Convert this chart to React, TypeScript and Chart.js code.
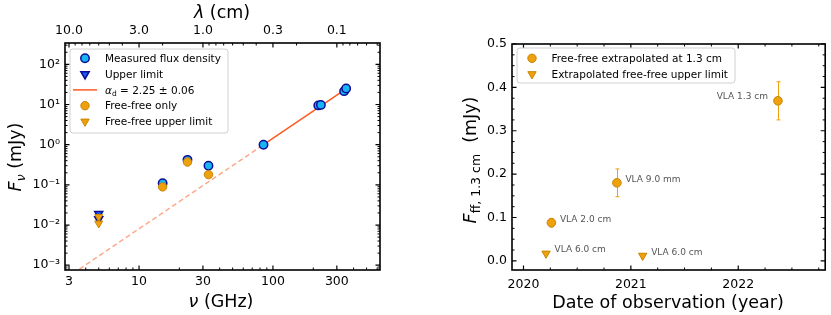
import React, { useEffect, useRef } from 'react';
import { Chart, registerables } from 'chart.js';
Chart.register(...registerables);

const FONT = '"DejaVu Sans", sans-serif';

// ---------- Left panel data ----------
const measNu = [15, 23, 33, 85, 218, 228, 340, 352];
const measFlux = [0.11, 0.42, 0.3, 1.0, 9.5, 9.8, 21.5, 25.0];
const ulNu = [5, 5];
const ulFlux = [0.019, 0.014];
const ffNu = [15, 23, 33];
const ffFlux = [0.089, 0.37, 0.18];
const ffUlNu = [5, 5];
const ffUlFlux = [0.016, 0.011];
const fitNu = [85, 345];
const fitFlux = [1.0, 23.4];
const extrapNu = [3.2, 85];
const extrapFlux = [0.00062, 1.0];
const nuTicks = [3, 10, 30, 100, 300];
const nuTickLabels = ['3', '10', '30', '100', '300'];
const lambdaTickLabels = ['10.0', '3.0', '1.0', '0.3', '0.1'];
const fluxTicks = [1e-3, 1e-2, 1e-1, 1, 10, 100];
const fluxTickLabels = ['10⁻³', '10⁻²', '10⁻¹', '10⁰', '10¹', '10²'];
const legendLeft = ['Measured flux density', 'Upper limit', 'α_d = 2.25 ± 0.06', 'Free-free only', 'Free-free upper limit'];

// ---------- Right panel data ----------
const ffDates = [2020.26, 2020.87, 2022.37];
const ffVals = [0.088, 0.18, 0.369];
const ffErrs = [0.01, 0.032, 0.044];
const ffLabels = ['VLA 2.0 cm', 'VLA 9.0 mm', 'VLA 1.3 cm'];
const ulDates = [2020.21, 2021.11];
const ulVals = [0.017, 0.012];
const ulLabels = ['VLA 6.0 cm', 'VLA 6.0 cm'];
const yearTicks = [2020, 2021, 2022];
const mjyTicks = [0, 0.1, 0.2, 0.3, 0.4, 0.5];
const legendRight = ['Free-free extrapolated at 1.3 cm', 'Extrapolated free-free upper limit'];

// ---------- colours ----------
const BLUE_FILL = '#19b4f3';
const BLUE_EDGE = '#0c0c96';
const TRI_BLUE = '#1a5ef0';
const OR_FILL = '#eea10c';
const OR_EDGE = '#c88400';
const FIT = '#fb5a1e';
const EXTRAP = 'rgba(252,140,100,0.75)';

const pts = (xs: number[], ys: number[]) => xs.map((x, i) => ({ x, y: ys[i] }));

type Seg = { t: string; size: number; italic?: boolean; dy?: number };
function drawRich(ctx: CanvasRenderingContext2D, segs: Seg[], cx: number, cy: number, rot: number, align: 'center' | 'left' = 'center') {
  ctx.save();
  ctx.translate(cx, cy);
  if (rot) ctx.rotate(rot);
  ctx.fillStyle = '#000';
  ctx.textBaseline = 'alphabetic';
  ctx.textAlign = 'left';
  const widths = segs.map((s) => {
    ctx.font = `${s.italic ? 'italic ' : ''}${s.size}px ${FONT}`;
    return ctx.measureText(s.t).width;
  });
  const total = widths.reduce((a, b) => a + b, 0);
  const main = segs[0].size;
  let x = align === 'center' ? -total / 2 : 0;
  segs.forEach((s, i) => {
    ctx.font = `${s.italic ? 'italic ' : ''}${s.size}px ${FONT}`;
    ctx.fillText(s.t, x, main * 0.36 + (s.dy || 0));
    x += widths[i];
  });
  ctx.restore();
}

function drawMarker(ctx: CanvasRenderingContext2D, kind: string, x: number, y: number) {
  ctx.save();
  if (kind === 'line') {
    ctx.strokeStyle = FIT;
    ctx.lineWidth = 1.5;
    ctx.beginPath();
    ctx.moveTo(x - 12, y);
    ctx.lineTo(x + 12, y);
    ctx.stroke();
  } else if (kind.startsWith('circle')) {
    const blue = kind.endsWith('blue');
    ctx.fillStyle = blue ? BLUE_FILL : OR_FILL;
    ctx.strokeStyle = blue ? BLUE_EDGE : OR_EDGE;
    ctx.lineWidth = blue ? 1.5 : 1;
    ctx.beginPath();
    ctx.arc(x, y, 4.2, 0, Math.PI * 2);
    ctx.fill();
    ctx.stroke();
  } else {
    const blue = kind.endsWith('blue');
    ctx.fillStyle = blue ? TRI_BLUE : OR_FILL;
    ctx.strokeStyle = blue ? BLUE_EDGE : OR_EDGE;
    ctx.lineWidth = blue ? 1.5 : 1;
    const r = 4.8;
    ctx.beginPath();
    ctx.moveTo(x, y + r);
    ctx.lineTo(x - r * 0.866, y - r * 0.5);
    ctx.lineTo(x + r * 0.866, y - r * 0.5);
    ctx.closePath();
    ctx.fill();
    ctx.stroke();
  }
  ctx.restore();
}

function legendBox(ctx: CanvasRenderingContext2D, x: number, y: number, w: number, h: number) {
  ctx.save();
  ctx.fillStyle = 'rgba(255,255,255,0.85)';
  ctx.strokeStyle = '#d0d0d0';
  ctx.lineWidth = 1;
  const r = 3;
  ctx.beginPath();
  ctx.moveTo(x + r, y);
  ctx.lineTo(x + w - r, y);
  ctx.quadraticCurveTo(x + w, y, x + w, y + r);
  ctx.lineTo(x + w, y + h - r);
  ctx.quadraticCurveTo(x + w, y + h, x + w - r, y + h);
  ctx.lineTo(x + r, y + h);
  ctx.quadraticCurveTo(x, y + h, x, y + h - r);
  ctx.lineTo(x, y + r);
  ctx.quadraticCurveTo(x, y, x + r, y);
  ctx.closePath();
  ctx.fill();
  ctx.stroke();
  ctx.restore();
}

type TickSpec = { xMaj: number[]; xMin: number[]; yMaj: number[]; yMin: number[]; topMaj?: number[]; topMin?: number[] };
function drawFrameTicks(chart: any, spec: TickSpec) {
  const { ctx, chartArea: a } = chart;
  const xs = chart.scales.x;
  const ys = chart.scales.y;
  ctx.save();
  ctx.strokeStyle = '#000';
  const inX = (p: number) => p >= a.left - 0.5 && p <= a.right + 0.5;
  const inY = (p: number) => p >= a.top - 0.5 && p <= a.bottom + 0.5;
  const vt = (vals: number[], len: number, w: number, bottom: boolean, top: boolean) => {
    ctx.lineWidth = w;
    vals.forEach((v) => {
      const p = xs.getPixelForValue(v);
      if (!inX(p)) return;
      ctx.beginPath();
      if (bottom) {
        ctx.moveTo(p, a.bottom);
        ctx.lineTo(p, a.bottom - len);
      }
      if (top) {
        ctx.moveTo(p, a.top);
        ctx.lineTo(p, a.top + len);
      }
      ctx.stroke();
    });
  };
  const topSep = !!spec.topMaj;
  vt(spec.xMaj, 4.5, 1.2, true, !topSep);
  vt(spec.xMin, 2.5, 1, true, !topSep);
  if (topSep) {
    vt(spec.topMaj || [], 4.5, 1.2, false, true);
    vt(spec.topMin || [], 2.5, 1, false, true);
  }
  const ht = (vals: number[], len: number, w: number) => {
    ctx.lineWidth = w;
    vals.forEach((v) => {
      const p = ys.getPixelForValue(v);
      if (!inY(p)) return;
      ctx.beginPath();
      ctx.moveTo(a.left, p);
      ctx.lineTo(a.left + len, p);
      ctx.moveTo(a.right, p);
      ctx.lineTo(a.right - len, p);
      ctx.stroke();
    });
  };
  ht(spec.yMaj, 4.5, 1.2);
  ht(spec.yMin, 2.5, 1);
  ctx.lineWidth = 1.6;
  ctx.strokeRect(a.left, a.top, a.right - a.left, a.bottom - a.top);
  ctx.restore();
}

function logMinors(lo: number, hi: number, majors: number[]) {
  const out: number[] = [];
  for (let d = -5; d <= 4; d++) {
    for (let k = 1; k <= 9; k++) {
      const v = k * Math.pow(10, d);
      if (v >= lo && v <= hi && !majors.some((m) => Math.abs(m - v) / v < 1e-6)) out.push(v);
    }
  }
  return out;
}

function stepTicks(lo: number, hi: number, step: number) {
  const out: number[] = [];
  const s = Math.ceil(lo / step - 1e-9);
  for (let i = s; i * step <= hi + 1e-9; i++) out.push(+(i * step).toFixed(6));
  return out;
}

const X_MIN_L = 2.8;
const X_MAX_L = 630;
const Y_MIN_L = 7.6e-4;
const Y_MAX_L = 340;
const NOGRID = { display: false, drawTicks: false };

function LeftChart() {
  const ref = useRef<HTMLCanvasElement>(null);
  useEffect(() => {
    if (!ref.current) return;
    const tickFont = { family: FONT, size: 12.5 };
    const lamMinors = logMinors(30 / X_MAX_L, 30 / X_MIN_L, [0.1, 0.3, 1, 3, 10]).map((l) => 30 / l);
    const plugin = {
      id: 'leftDeco',
      afterDraw(chart: any) {
        const ctx = chart.ctx as CanvasRenderingContext2D;
        drawFrameTicks(chart, {
          xMaj: nuTicks,
          xMin: logMinors(X_MIN_L, X_MAX_L, nuTicks),
          topMaj: nuTicks,
          topMin: lamMinors,
          yMaj: fluxTicks,
          yMin: logMinors(Y_MIN_L, Y_MAX_L, fluxTicks),
        });
        // legend
        legendBox(ctx, 70, 49, 158, 84);
        const kinds = ['circle-blue', 'tri-blue', 'line', 'circle-orange', 'tri-orange'];
        legendLeft.forEach((lab, i) => {
          const y = 58.3 + i * 15.8;
          drawMarker(ctx, kinds[i], 85, y);
          if (lab.startsWith('α_d')) {
            drawRich(ctx, [
              { t: 'α', size: 10.5, italic: true },
              { t: 'd', size: 7.5, dy: 2.5 },
              { t: lab.slice(3), size: 10.5 },
            ], 105, y, 0, 'left');
          } else {
            drawRich(ctx, [{ t: lab, size: 10.5 }], 105, y, 0, 'left');
          }
        });
        // axis titles
        drawRich(ctx, [{ t: 'λ', size: 17.5, italic: true }, { t: ' (cm)', size: 17.5 }], 222, 12, 0);
        drawRich(ctx, [{ t: 'ν', size: 17.5, italic: true }, { t: ' (GHz)', size: 17.5 }], 221, 301, 0);
        drawRich(ctx, [
          { t: 'F', size: 17.5, italic: true },
          { t: 'ν', size: 12.5, italic: true, dy: 3.5 },
          { t: ' (mJy)', size: 17.5 },
        ], 15, 157, -Math.PI / 2);
      },
    };
    const chart = new Chart(ref.current, {
      type: 'scatter',
      data: {
        datasets: [
          { data: pts(ffUlNu, ffUlFlux), pointStyle: 'triangle', rotation: 180, pointRadius: 4.6, backgroundColor: OR_FILL, borderColor: OR_EDGE, borderWidth: 1, order: 1 },
          { data: pts(ffNu, ffFlux), pointStyle: 'circle', pointRadius: 4.2, backgroundColor: OR_FILL, borderColor: OR_EDGE, borderWidth: 1, order: 2 },
          { data: pts(ulNu, ulFlux), pointStyle: 'triangle', rotation: 180, pointRadius: 4.6, backgroundColor: TRI_BLUE, borderColor: BLUE_EDGE, borderWidth: 1.5, order: 3 },
          { data: pts(measNu, measFlux), pointStyle: 'circle', pointRadius: 4.2, backgroundColor: BLUE_FILL, borderColor: BLUE_EDGE, borderWidth: 1.5, order: 4 },
          { data: pts(fitNu, fitFlux), showLine: true, pointRadius: 0, borderColor: FIT, borderWidth: 1.5, order: 5 },
          { data: pts(extrapNu, extrapFlux), showLine: true, pointRadius: 0, borderColor: EXTRAP, borderWidth: 1.5, borderDash: [5, 3], order: 6 },
        ] as any,
      },
      options: {
        animation: false,
        responsive: false,
        maintainAspectRatio: false,
        events: [],
        layout: { padding: { left: 0, right: 35, top: 0, bottom: 0 } },
        plugins: { legend: { display: false }, tooltip: { enabled: false } },
        scales: {
          x: {
            type: 'logarithmic', position: 'bottom', min: X_MIN_L, max: X_MAX_L, bounds: 'data',
            grid: NOGRID, border: { display: false },
            afterBuildTicks: (s: any) => { s.ticks = nuTicks.map((v) => ({ value: v })); },
            afterFit: (s: any) => { s.height = 45; },
            ticks: { autoSkip: false, maxRotation: 0, color: '#000', font: tickFont, padding: 4, callback: (_v: any, i: number) => nuTickLabels[i] },
          },
          x2: {
            type: 'logarithmic', axis: 'x', position: 'top', min: X_MIN_L, max: X_MAX_L, bounds: 'data',
            grid: NOGRID, border: { display: false },
            afterBuildTicks: (s: any) => { s.ticks = nuTicks.map((v) => ({ value: v })); },
            afterFit: (s: any) => { s.height = 43; },
            ticks: { autoSkip: false, maxRotation: 0, color: '#000', font: tickFont, padding: 5, callback: (_v: any, i: number) => lambdaTickLabels[i] },
          },
          y: {
            type: 'logarithmic', min: Y_MIN_L, max: Y_MAX_L, bounds: 'data',
            grid: NOGRID, border: { display: false },
            afterBuildTicks: (s: any) => { s.ticks = fluxTicks.map((v) => ({ value: v })); },
            afterFit: (s: any) => { s.width = 65; },
            ticks: { autoSkip: false, color: '#000', font: tickFont, padding: 5, callback: (_v: any, i: number) => fluxTickLabels[i] },
          },
        } as any,
      },
      plugins: [plugin as any],
    });
    return () => chart.destroy();
  }, []);
  return <canvas ref={ref} width={415} height={315} style={{ position: 'absolute', left: 0, top: 0, width: 415, height: 315 }} />;
}

const X_MIN_R = 2019.893;
const X_MAX_R = 2022.81;
const Y_MIN_R = -0.021;
const Y_MAX_R = 0.5;

function RightChart() {
  const ref = useRef<HTMLCanvasElement>(null);
  useEffect(() => {
    if (!ref.current) return;
    const tickFont = { family: FONT, size: 12.5 };
    const plugin = {
      id: 'rightDeco',
      beforeDatasetsDraw(chart: any) {
        const ctx = chart.ctx as CanvasRenderingContext2D;
        const xs = chart.scales.x;
        const ys = chart.scales.y;
        ctx.save();
        ctx.strokeStyle = OR_FILL;
        ctx.lineWidth = 1;
        ffDates.forEach((d, i) => {
          const px = Math.round(xs.getPixelForValue(d)) + 0.5;
          const y1 = ys.getPixelForValue(ffVals[i] - ffErrs[i]);
          const y2 = ys.getPixelForValue(ffVals[i] + ffErrs[i]);
          ctx.beginPath();
          ctx.moveTo(px, y1);
          ctx.lineTo(px, y2);
          ctx.moveTo(px - 2, y1);
          ctx.lineTo(px + 2, y1);
          ctx.moveTo(px - 2, y2);
          ctx.lineTo(px + 2, y2);
          ctx.stroke();
        });
        ctx.restore();
      },
      afterDraw(chart: any) {
        const ctx = chart.ctx as CanvasRenderingContext2D;
        const xs = chart.scales.x;
        const ys = chart.scales.y;
        drawFrameTicks(chart, {
          xMaj: yearTicks,
          xMin: stepTicks(X_MIN_R, X_MAX_R, 0.25).filter((v) => !yearTicks.includes(v)),
          yMaj: mjyTicks,
          yMin: stepTicks(Y_MIN_R, Y_MAX_R, 0.025).filter((v) => !mjyTicks.some((m) => Math.abs(m - v) < 1e-6)),
        });
        // annotations
        ctx.save();
        ctx.fillStyle = '#555';
        ctx.font = `9px ${FONT}`;
        ctx.textBaseline = 'middle';
        const ann = (d: number, v: number, lab: string) => {
          const px = xs.getPixelForValue(d);
          const py = ys.getPixelForValue(v);
          if (px > chart.chartArea.right - 70) {
            ctx.textAlign = 'right';
            ctx.fillText(lab, px - 10, py - 4);
          } else {
            ctx.textAlign = 'left';
            ctx.fillText(lab, px + 8.5, py - 3.5);
          }
        };
        ffDates.forEach((d, i) => ann(d, ffVals[i], ffLabels[i]));
        ulDates.forEach((d, i) => ann(d, ulVals[i], ulLabels[i]));
        ctx.restore();
        // legend (page coords minus 415)
        legendBox(ctx, 517 - 415, 48, 218, 35);
        const kinds = ['circle-orange', 'tri-orange'];
        legendRight.forEach((lab, i) => {
          const y = 58.3 + i * 15.8;
          drawMarker(ctx, kinds[i], 532 - 415, y);
          drawRich(ctx, [{ t: lab, size: 10.5 }], 551.5 - 415, y, 0, 'left');
        });
        // titles
        drawRich(ctx, [{ t: 'Date of observation (year)', size: 17.5 }], 668 - 415, 302, 0);
        drawRich(ctx, [
          { t: 'F', size: 17.5, italic: true },
          { t: 'ff, 1.3 cm', size: 12.5, dy: 3.5 },
          { t: '  (mJy)', size: 17.5 },
        ], 470 - 415, 160, -Math.PI / 2);
      },
    };
    const chart = new Chart(ref.current, {
      type: 'scatter',
      data: {
        datasets: [
          { data: pts(ffDates, ffVals), pointStyle: 'circle', pointRadius: 4.3, backgroundColor: OR_FILL, borderColor: OR_EDGE, borderWidth: 1, order: 1 },
          { data: pts(ulDates, ulVals), pointStyle: 'triangle', rotation: 180, pointRadius: 4.8, backgroundColor: OR_FILL, borderColor: OR_EDGE, borderWidth: 1, order: 2 },
        ] as any,
      },
      options: {
        animation: false,
        responsive: false,
        maintainAspectRatio: false,
        events: [],
        layout: { padding: { left: 0, right: 4, top: 44, bottom: 0 } },
        plugins: { legend: { display: false }, tooltip: { enabled: false } },
        scales: {
          x: {
            type: 'linear', min: X_MIN_R, max: X_MAX_R, bounds: 'data',
            grid: NOGRID, border: { display: false },
            afterBuildTicks: (s: any) => { s.ticks = yearTicks.map((v) => ({ value: v })); },
            afterFit: (s: any) => { s.height = 45; },
            ticks: { autoSkip: false, maxRotation: 0, color: '#000', font: tickFont, padding: 7, callback: (_v: any, i: number) => String(yearTicks[i]) },
          },
          y: {
            type: 'linear', min: Y_MIN_R, max: Y_MAX_R, bounds: 'data',
            grid: NOGRID, border: { display: false },
            afterBuildTicks: (s: any) => { s.ticks = mjyTicks.map((v) => ({ value: v })); },
            afterFit: (s: any) => { s.width = 97; },
            ticks: { autoSkip: false, color: '#000', font: tickFont, padding: 5, callback: (_v: any, i: number) => mjyTicks[i].toFixed(1) },
          },
        } as any,
      },
      plugins: [plugin as any],
    });
    return () => chart.destroy();
  }, []);
  return <canvas ref={ref} width={416} height={315} style={{ position: 'absolute', left: 415, top: 0, width: 416, height: 315 }} />;
}

export default function App() {
  return (
    <div style={{ position: 'fixed', left: 0, top: 0, width: 831, height: 315, background: '#fff', overflow: 'hidden' }}>
      <LeftChart />
      <RightChart />
    </div>
  );
}
